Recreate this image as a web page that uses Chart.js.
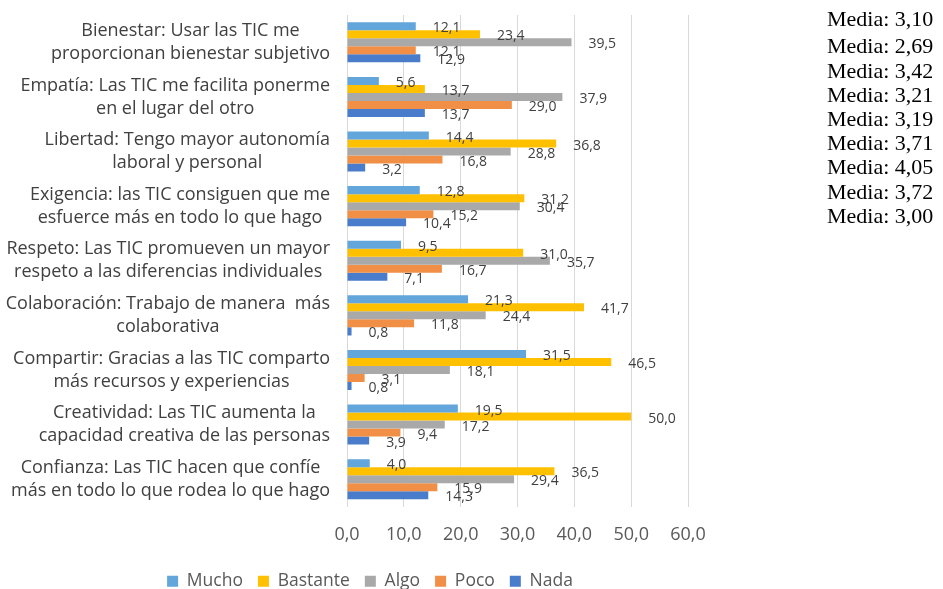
<!DOCTYPE html>
<html>
<head>
<meta charset="utf-8">
<script src="https://cdn.jsdelivr.net/npm/chart.js@4.4.0/dist/chart.umd.min.js"></script>
<style>
  html, body { margin: 0; padding: 0; background: #fff; overflow: hidden; }
  #wrap { position: relative; width: 943px; height: 600px; }
  #medias { position: absolute; left: 827px; top: 7px; font-family: "Liberation Serif", serif; font-size: 22px; color: #000; line-height: 24.2px; white-space: nowrap; }
  #medias div:first-child { margin-bottom: 3.2px; }
</style>
</head>
<body>
<div id="wrap">
  <canvas id="chart"></canvas>
  <div id="medias"></div>
</div>
<script>
// ---- data ----
const categories = [
  ["Bienestar: Usar las TIC me", "proporcionan bienestar subjetivo"],
  ["Empatía: Las TIC me facilita ponerme", "en el lugar del otro"],
  ["Libertad: Tengo mayor autonomía", "laboral y personal"],
  ["Exigencia: las TIC consiguen que me", "esfuerce más en todo lo que hago"],
  ["Respeto: Las TIC promueven un mayor", "respeto a las diferencias individuales"],
  ["Colaboración: Trabajo de manera  más", "colaborativa"],
  ["Compartir: Gracias a las TIC comparto", "más recursos y experiencias"],
  ["Creatividad: Las TIC aumenta la", "capacidad creativa de las personas"],
  ["Confianza: Las TIC hacen que confíe", "más en todo lo que rodea lo que hago"]
];
const seriesNames = ["Mucho", "Bastante", "Algo", "Poco", "Nada"];
const mucho    = [12.1, 5.6, 14.4, 12.8, 9.5, 21.3, 31.5, 19.5, 4.0];
const bastante = [23.4, 13.7, 36.8, 31.2, 31.0, 41.7, 46.5, 50.0, 36.5];
const algo     = [39.5, 37.9, 28.8, 30.4, 35.7, 24.4, 18.1, 17.2, 29.4];
const poco     = [12.1, 29.0, 16.8, 15.2, 16.7, 11.8, 3.1, 9.4, 15.9];
const nada     = [12.9, 13.7, 3.2, 10.4, 7.1, 0.8, 0.8, 3.9, 14.3];
const medias   = ["3,10", "2,69", "3,42", "3,21", "3,19", "3,71", "4,05", "3,72", "3,00"];
const xMin = 0, xMax = 60, xStep = 10;

const colors = ["#62a6dc", "#ffc000", "#a9a9a9", "#f08f45", "#4a7ccc"];
const fmt = v => v.toFixed(1).replace(".", ",");

// --- side text ---
document.getElementById("medias").innerHTML =
  medias.map(m => `<div>Media: ${m}</div>`).join("");

// --- value labels next to the bar ends ---
const barLabels = {
  id: "barLabels",
  afterDatasetsDraw(chart) {
    const ctx = chart.ctx;
    ctx.save();
    ctx.font = '14px "Open Sans"';
    ctx.fillStyle = "#404040";
    ctx.textAlign = "left";
    ctx.textBaseline = "middle";
    chart.data.datasets.forEach((ds, i) => {
      chart.getDatasetMeta(i).data.forEach((bar, j) => {
        ctx.fillText(fmt(ds.data[j]), bar.x + 17, bar.y + 2);
      });
    });
    ctx.restore();
  }
};

// --- category text, each block centred on its widest line ---
const categoryText = {
  id: "categoryText",
  afterDraw(chart) {
    const ctx = chart.ctx, y = chart.scales.y;
    const right = chart.chartArea.left - 17;
    ctx.save();
    ctx.font = '18px "Open Sans"';
    ctx.fillStyle = "#404040";
    ctx.textAlign = "center";
    ctx.textBaseline = "middle";
    categories.forEach((lines, i) => {
      const widest = Math.max(...lines.map(l => ctx.measureText(l).width));
      const cx = right - widest / 2;
      const cy = y.getPixelForValue(i);
      lines.forEach((l, k) => ctx.fillText(l, cx, cy + (k - (lines.length - 1) / 2) * 23));
    });
    ctx.restore();
  }
};

// legend is centred under the whole chart block, not the plot
const legendShift = {
  id: "legendShift",
  afterLayout(chart) {
    chart.legend.left = 0;
    chart.legend.right = 740;
    chart.legend.width = 740;
  }
};

function draw() {
  new Chart(document.getElementById("chart"), {
    type: "bar",
    data: {
      labels: categories,
      datasets: [mucho, bastante, algo, poco, nada].map((d, i) => ({
        label: seriesNames[i],
        data: d,
        backgroundColor: colors[i],
        borderWidth: 0,
        categoryPercentage: 0.733,
        barPercentage: 1.0
      }))
    },
    options: {
      indexAxis: "y",
      responsive: true,
      maintainAspectRatio: false,
      animation: false,
      layout: { padding: { top: 15, right: 255, bottom: 0, left: 0 } },
      scales: {
        x: {
          min: xMin, max: xMax,
          ticks: {
            stepSize: xStep,
            padding: 18,
            color: "#595959",
            font: { family: "Open Sans", size: 18 },
            callback: v => fmt(v)
          },
          grid: { color: "#d9d9d9", drawTicks: false },
          border: { display: false },
          afterFit(scale) { scale.height = 51; }
        },
        y: {
          ticks: { display: false },
          grid: { display: false },
          border: { display: false },
          afterFit(scale) { scale.width = 347; }
        }
      },
      plugins: {
        tooltip: { enabled: false },
        legend: {
          position: "bottom",
          labels: {
            boxWidth: 11,
            boxHeight: 11,
            padding: 15,
            color: "#595959",
            font: { family: "Open Sans", size: 17.5 }
          }
        }
      }
    },
    plugins: [barLabels, categoryText, legendShift]
  });
}

Promise.all([
  document.fonts.load('18px "Open Sans"'),
  document.fonts.load('22px "Liberation Serif"')
]).then(draw, draw);
</script>
</body>
</html>
